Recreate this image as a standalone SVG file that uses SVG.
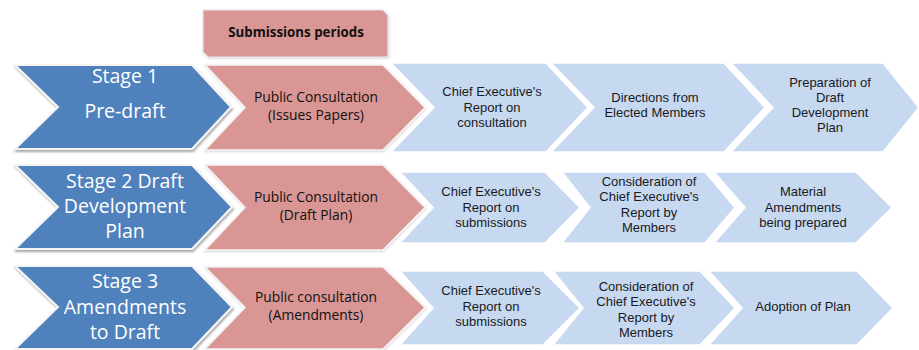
<svg xmlns="http://www.w3.org/2000/svg" width="919" height="350" viewBox="0 0 919 350">
  <defs>
    <filter id="shade" x="-10%" y="-10%" width="120%" height="130%">
      <feDropShadow dx="1" dy="2" stdDeviation="1.2" flood-color="#000" flood-opacity="0.35"/>
    </filter>
    <filter id="softshade" x="-10%" y="-10%" width="120%" height="130%">
      <feDropShadow dx="0.5" dy="1" stdDeviation="1" flood-color="#000" flood-opacity="0.18"/>
    </filter>
  </defs>
  <style>
    .stage { fill: #4F81BD; stroke: #F4F4F4; stroke-width: 2; filter: url(#shade); }
    .consult { fill: #D99694; stroke: #F4F4F4; stroke-width: 1.5; filter: url(#softshade); }
    .step { fill: #C6D9F1; stroke: #FFFFFF; stroke-width: 1.5; }
    .banner { fill: #D99694; stroke: #E4E8F0; stroke-width: 1.2; filter: url(#softshade); }
    text { font-family: "Open Sans", "Noto Sans", sans-serif; text-anchor: middle; }
    .t-stage { fill: #FFFFFF; font-size: 19.5px; }
    .t-consult { fill: #111111; font-size: 13.8px; }
    .t-step { fill: #1A1A1A; font-size: 13px; font-family: "Liberation Sans", Arial, sans-serif; }
    .t-banner { fill: #111111; font-size: 13.3px; font-weight: bold; }
  </style>

  <!-- Header banner -->
  <g id="submissions-periods">
    <polygon class="banner" points="203,10 383,10 388,15 388,57 208,57 203,52"/>
    <text class="t-banner" x="296" y="37">Submissions periods</text>
  </g>

  <!-- Row 1 -->
  <g id="stage1">
    <polygon class="stage" points="15,65 192,65 231,107 192,149 15,149 58,107"/>
    <text class="t-stage" x="125" y="83">Stage 1</text>
    <text class="t-stage" x="125" y="118">Pre-draft</text>
  </g>
  <g id="stage1-consultation">
    <polygon class="consult" points="205,65 383,65 425,107.5 383,150 205,150 245,107.5"/>
    <text class="t-consult" x="316" y="102">Public Consultation</text>
    <text class="t-consult" x="316" y="119.5">(Issues Papers)</text>
  </g>
  <g id="stage1-report">
    <polygon class="step" points="391,63 546,63 588,107.5 546,152 391,152 434,107.5"/>
    <text class="t-step" x="492" y="96">Chief Executive's</text>
    <text class="t-step" x="492" y="111.5">Report on</text>
    <text class="t-step" x="492" y="127">consultation</text>
  </g>
  <g id="stage1-directions">
    <polygon class="step" points="551,63 724,63 765,107.5 724,152 551,152 594,107.5"/>
    <text class="t-step" x="655" y="101.5">Directions from</text>
    <text class="t-step" x="655" y="117">Elected Members</text>
  </g>
  <g id="stage1-preparation">
    <polygon class="step" points="731,63 883,63 919,107.5 883,152 731,152 773,107.5"/>
    <text class="t-step" x="830" y="86.5">Preparation of</text>
    <text class="t-step" x="830" y="101.8">Draft</text>
    <text class="t-step" x="830" y="117.1">Development</text>
    <text class="t-step" x="830" y="132.4">Plan</text>
  </g>

  <!-- Row 2 -->
  <g id="stage2">
    <polygon class="stage" points="15,165 192,165 232,207 192,249 15,249 58,207"/>
    <text class="t-stage" x="125" y="188.3">Stage 2 Draft</text>
    <text class="t-stage" x="125" y="213.3">Development</text>
    <text class="t-stage" x="125" y="238.3">Plan</text>
  </g>
  <g id="stage2-consultation">
    <polygon class="consult" points="205,165 383,165 425,207.5 383,250 205,250 245,207.5"/>
    <text class="t-consult" x="316" y="202">Public Consultation</text>
    <text class="t-consult" x="316" y="219.5">(Draft Plan)</text>
  </g>
  <g id="stage2-report">
    <polygon class="step" points="400,172 545,172 580,207.5 545,243 400,243 433,207.5"/>
    <text class="t-step" x="491" y="196">Chief Executive's</text>
    <text class="t-step" x="491" y="211.5">Report on</text>
    <text class="t-step" x="491" y="227">submissions</text>
  </g>
  <g id="stage2-consideration">
    <polygon class="step" points="562,172 705,172 735,207.5 705,243 562,243 590,207.5"/>
    <text class="t-step" x="649" y="185.5">Consideration of</text>
    <text class="t-step" x="649" y="201">Chief Executive's</text>
    <text class="t-step" x="649" y="216.5">Report by</text>
    <text class="t-step" x="649" y="232">Members</text>
  </g>
  <g id="stage2-amendments">
    <polygon class="step" points="714,172 856,172 892,207.5 856,243 714,243 745,207.5"/>
    <text class="t-step" x="803" y="196">Material</text>
    <text class="t-step" x="803" y="211.5">Amendments</text>
    <text class="t-step" x="803" y="227">being prepared</text>
  </g>

  <!-- Row 3 -->
  <g id="stage3">
    <polygon class="stage" points="15,266 192,266 232,307 192,349 15,349 58,307"/>
    <text class="t-stage" x="125" y="288.3">Stage 3</text>
    <text class="t-stage" x="125" y="314.3">Amendments</text>
    <text class="t-stage" x="125" y="339.3">to Draft</text>
  </g>
  <g id="stage3-consultation">
    <polygon class="consult" points="205,267 383,267 425,307.5 383,349 205,349 245,307.5"/>
    <text class="t-consult" x="316" y="302">Public consultation</text>
    <text class="t-consult" x="316" y="319.5">(Amendments)</text>
  </g>
  <g id="stage3-report">
    <polygon class="step" points="400,271 543,271 580,308 543,345 400,345 433,308"/>
    <text class="t-step" x="491" y="295">Chief Executive's</text>
    <text class="t-step" x="491" y="310.5">Report on</text>
    <text class="t-step" x="491" y="326">submissions</text>
  </g>
  <g id="stage3-consideration">
    <polygon class="step" points="553,271 700,271 735,308 700,345 553,345 583,308"/>
    <text class="t-step" x="646" y="290.5">Consideration of</text>
    <text class="t-step" x="646" y="306">Chief Executive's</text>
    <text class="t-step" x="646" y="321.5">Report by</text>
    <text class="t-step" x="646" y="337">Members</text>
  </g>
  <g id="stage3-adoption">
    <polygon class="step" points="709,271 857,271 893,308 857,345 709,345 742,308"/>
    <text class="t-step" x="803" y="311">Adoption of Plan</text>
  </g>
</svg>
